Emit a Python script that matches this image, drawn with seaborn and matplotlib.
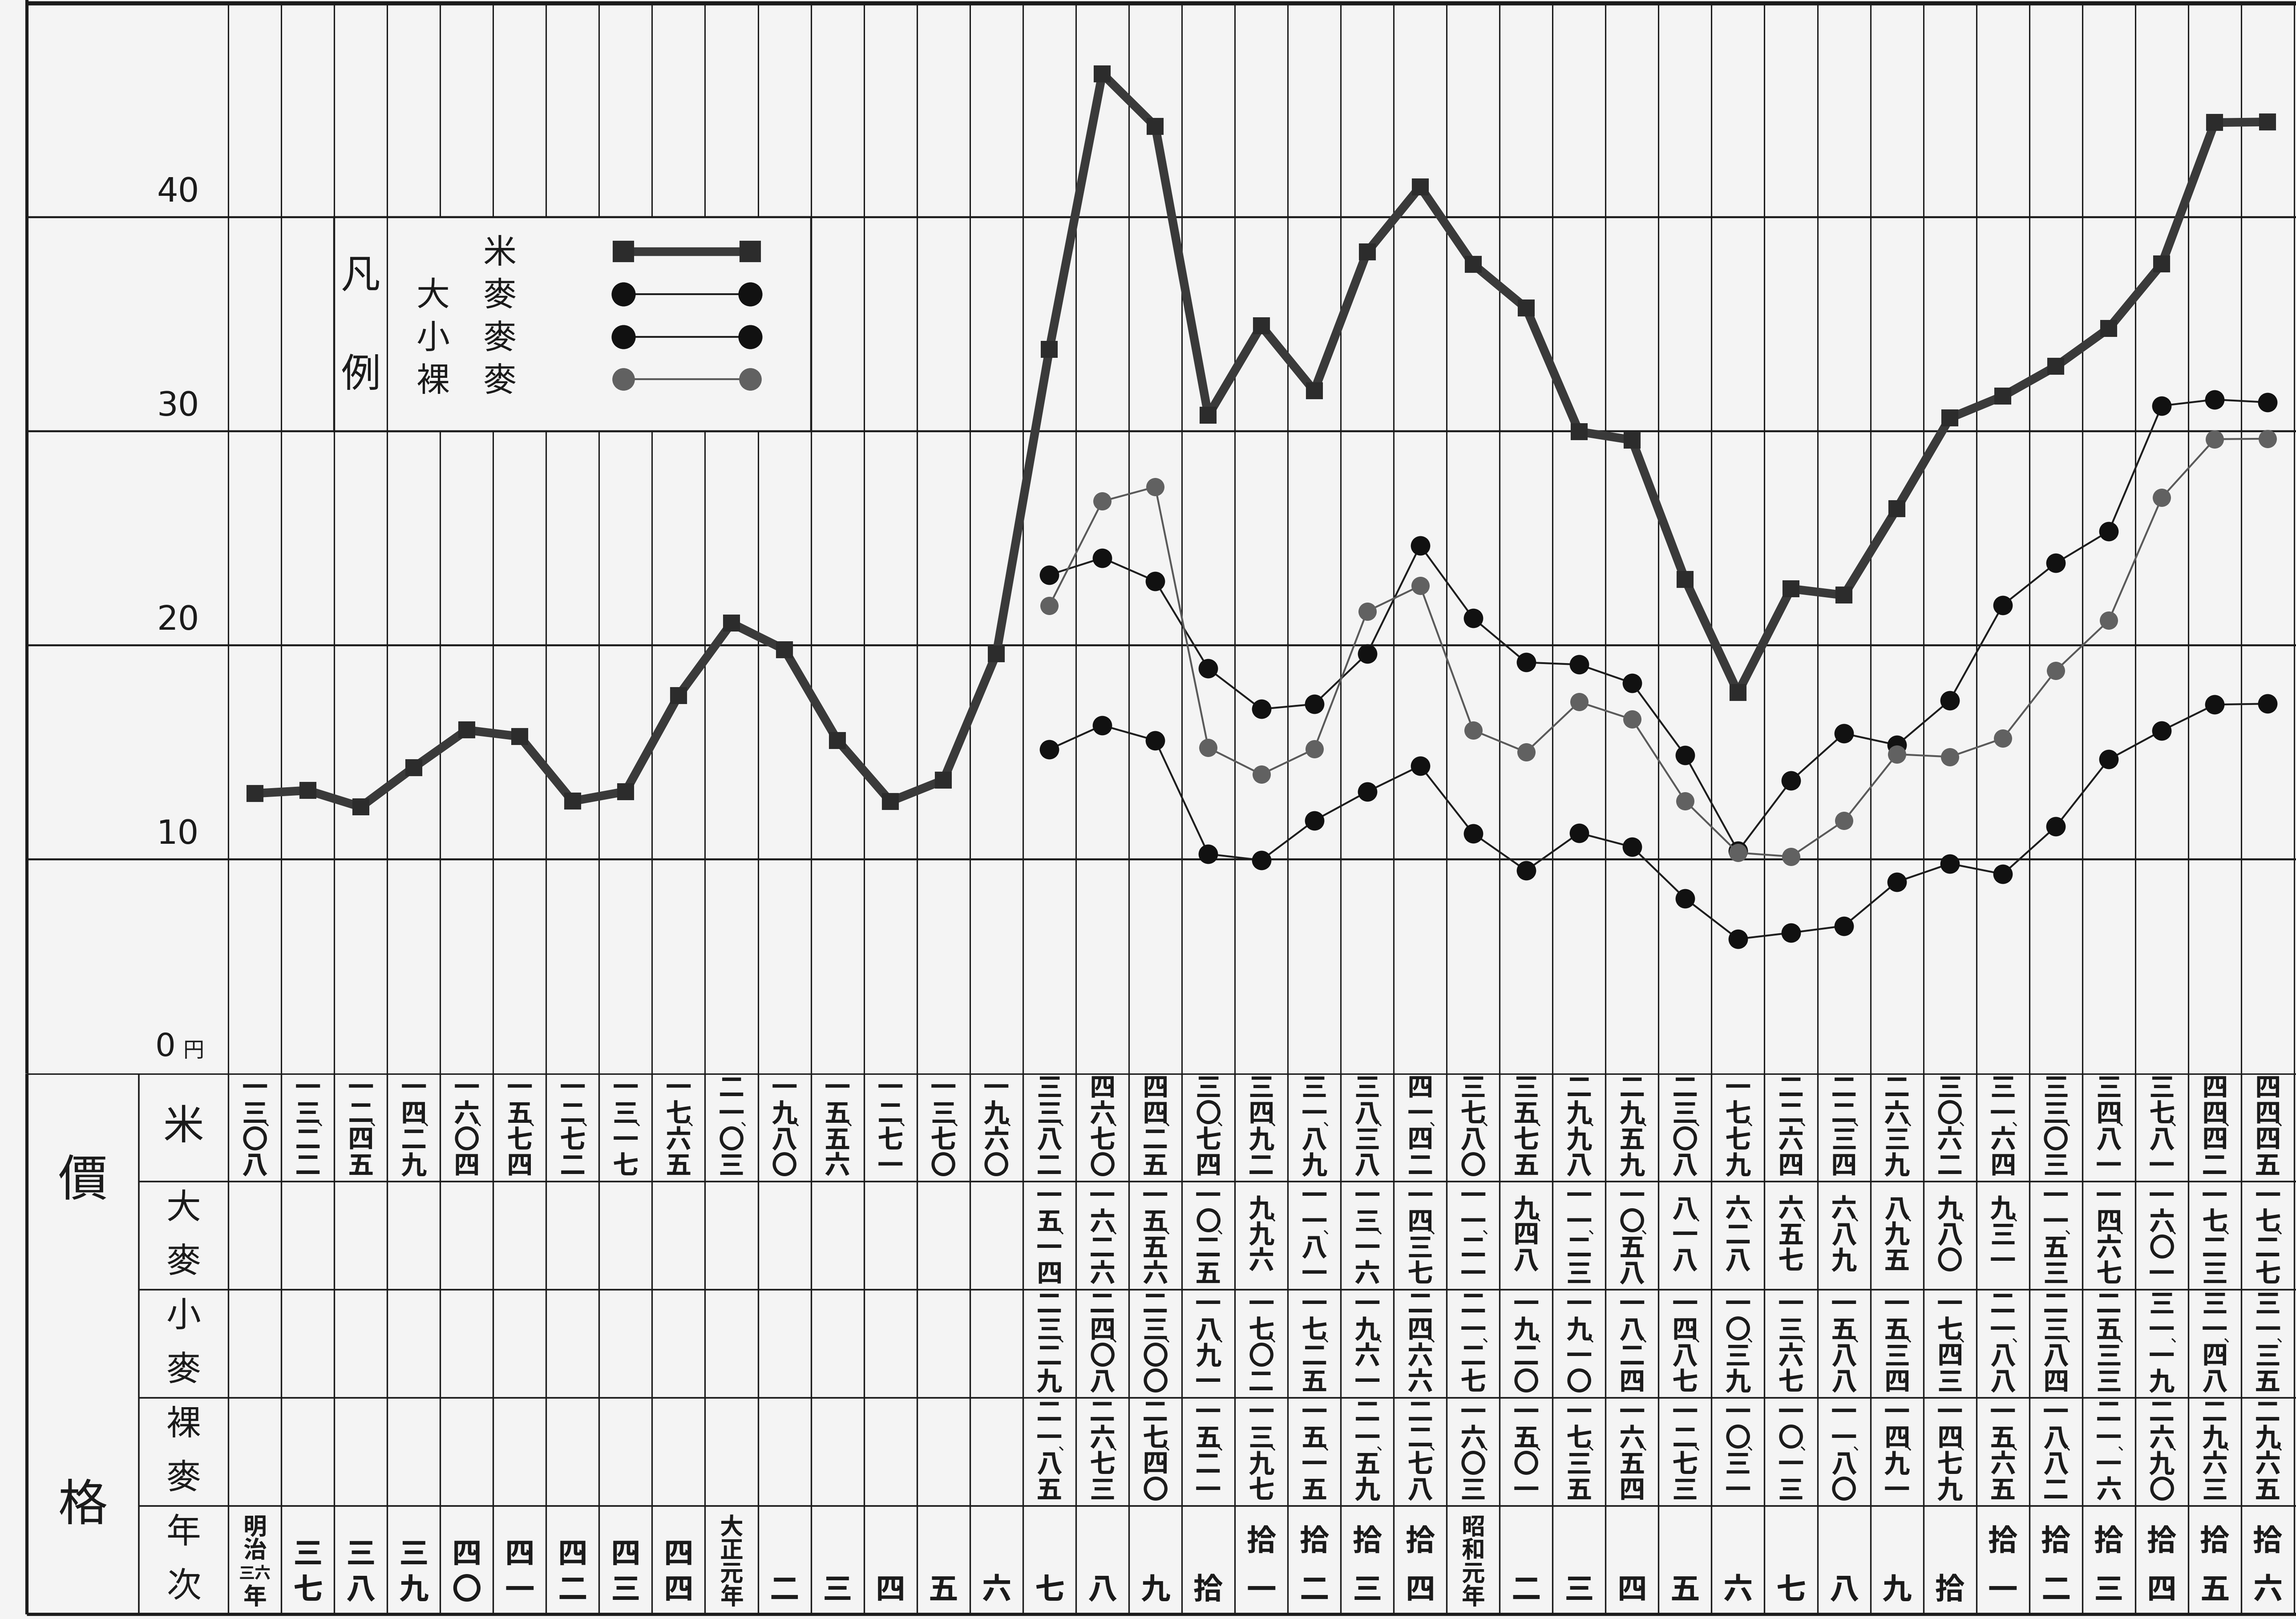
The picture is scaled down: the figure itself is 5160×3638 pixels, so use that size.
import numpy as np
import pandas as pd
import matplotlib
matplotlib.use("Agg")
import matplotlib.pyplot as plt
import seaborn as sns
from matplotlib.patches import Rectangle

# year labels (Meiji 36 .. Showa 16)
years = ["明治三六年", "三七", "三八", "三九", "四〇", "四一", "四二", "四三", "四四",
         "大正元年", "二", "三", "四", "五", "六", "七", "八", "九", "拾",
         "拾一", "拾二", "拾三", "拾四",
         "昭和元年", "二", "三", "四", "五", "六", "七", "八", "九", "拾",
         "拾一", "拾二", "拾三", "拾四", "拾五", "拾六"]

# prices in yen
rice = [13.08, 13.22, 12.45, 14.29, 16.04, 15.74, 12.72, 13.17, 17.65, 21.03,
        19.80, 15.56, 12.71, 13.70, 19.60, 33.82, 46.70, 44.25, 30.74, 34.92,
        31.89, 38.38, 41.42, 37.80, 35.75, 29.98, 29.59, 23.08, 17.79, 22.64,
        22.34, 26.39, 30.62, 31.64, 33.03, 34.81, 37.81, 44.42, 44.45]
barley = [None] * 15 + [15.14, 16.26, 15.56, 10.25, 9.96, 11.81, 13.16, 14.37,
                        11.21, 9.48, 11.23, 10.58, 8.18, 6.28, 6.57, 6.89, 8.95,
                        9.80, 9.31, 11.53, 14.67, 16.01, 17.23, 17.27]
wheat = [None] * 15 + [23.29, 24.08, 23.00, 18.91, 17.02, 17.25, 19.61, 24.66,
                       21.27, 19.20, 19.10, 18.24, 14.87, 10.39, 13.67, 15.88,
                       15.34, 17.43, 21.88, 23.84, 25.33, 31.19, 31.48, 31.35]
naked = [None] * 15 + [21.85, 26.73, 27.40, 15.21, 13.97, 15.15, 21.59, 22.78,
                       16.03, 15.01, 17.35, 16.54, 12.73, 10.31, 10.13, 11.80,
                       14.91, 14.79, 15.65, 18.82, 21.16, 26.90, 29.63, 29.65]

series_names = ["米", "大麥", "小麥", "裸麥"]
legend_labels = ["\u3000米", "大\u3000麥", "小\u3000麥", "裸\u3000麥"]
y_ticks = [10, 20, 30, 40]

sns.set_theme(style="white")
JP = ["Noto Sans CJK JP", "DejaVu Sans"]
plt.rcParams["font.family"] = JP

INK = "#1b1b1b"
BG = "#f4f4f4"
KANJI = "〇一二三四五六七八九"

W, H, DPI = 5160, 3638, 200
fig = plt.figure(figsize=(W / DPI, H / DPI), dpi=DPI, facecolor=BG)

# pixel geometry of the sheet
col_px = (5156 - 513) / 39
x_lo = -0.5 - 513 / col_px
x_hi = -0.5 + (W - 513) / col_px
x_border = -0.5 - (513 - 60) / col_px
x_head = -0.5 - (513 - 312) / col_px
top_px = 2412
unit_px = (top_px - 7) / 50

# ---------------- chart ----------------
ax = fig.add_axes([0, 1 - top_px / H, 1, top_px / H])
ax.set_xlim(x_lo, x_hi)
ax.set_ylim(0, top_px / unit_px)
ax.axis("off")

ax.vlines(np.arange(len(years) + 1) - 0.5, 0, 50, color=INK, lw=1.1, zorder=1)
ax.vlines(x_border, 0, 50.3, color=INK, lw=2.6, zorder=1)
ax.hlines(y_ticks, x_border, x_hi, color=INK, lw=1.6, zorder=1)
ax.hlines(50, x_border, x_hi, color=INK, lw=3.4, zorder=1)

for v in y_ticks:
    ax.text(-1.05, v + 0.4, str(v), ha="right", va="bottom", fontsize=27,
            family="DejaVu Sans", color=INK)
ax.text(-1.5, 0.5, "0", ha="right", va="bottom", fontsize=26,
        family="DejaVu Sans", color=INK)
ax.text(-1.35, 0.55, "円", ha="left", va="bottom", fontsize=17, color=INK)

df = pd.DataFrame({"col": np.arange(len(years)), "米": rice, "大麥": barley,
                   "小麥": wheat, "裸麥": naked})
long = df.melt(id_vars="col", var_name="item", value_name="price").dropna()

styles = {
    "米": dict(color="#3a3a3a", linewidth=7, marker="s", markersize=13,
              markerfacecolor="#2c2c2c", markeredgecolor="#2c2c2c"),
    "大麥": dict(color="#1e1e1e", linewidth=1.5, marker="o", markersize=15,
               markerfacecolor="#111111", markeredgecolor="#111111"),
    "小麥": dict(color="#1e1e1e", linewidth=1.5, marker="o", markersize=15,
               markerfacecolor="#111111", markeredgecolor="#111111"),
    "裸麥": dict(color="#5a5a5a", linewidth=1.5, marker="o", markersize=14,
               markerfacecolor="#616161", markeredgecolor="#616161"),
}
for name in series_names:
    sub = long[long["item"] == name]
    sns.lineplot(data=sub, x="col", y="price", ax=ax, label=name, legend=False,
                 errorbar=None, zorder=5, **styles[name])

# legend block (凡例)
ax.add_patch(Rectangle((1.5, 30), 9, 10, facecolor=BG, edgecolor=INK, lw=1.6, zorder=2))
ax.vlines(2.5, 30, 40, color=INK, lw=1.1, zorder=3)
ax.text(2.0, 37.2, "凡", ha="center", va="center", fontsize=32, color=INK, zorder=6)
ax.text(2.0, 32.6, "例", ha="center", va="center", fontsize=32, color=INK, zorder=6)
handles, _ = ax.get_legend_handles_labels()
leg = ax.legend(handles, legend_labels, loc="upper left", bbox_to_anchor=(3.05, 39.1),
                bbox_transform=ax.transData, frameon=False, markerfirst=False,
                numpoints=2, markerscale=1.25, fontsize=27, handlelength=4.4,
                handletextpad=2.9, labelspacing=0.25, borderpad=0, borderaxespad=0)
leg.set_zorder(6)
for t in leg.get_texts():
    t.set_color(INK)

# ---------------- table ----------------
axt = fig.add_axes([0, 0, 1, 1 - top_px / H])
row_px = (3627 - top_px) / 5
axt.set_xlim(x_lo, x_hi)
axt.set_ylim((H - top_px) / row_px, 0)
axt.axis("off")

axt.hlines(0, x_border, x_hi, color=INK, lw=1.9)
axt.hlines([1, 2, 3, 4], x_head, x_hi, color=INK, lw=1.3)
axt.hlines(5, x_border, x_hi, color=INK, lw=2.6)
axt.vlines(np.arange(len(years) + 1) - 0.5, 0, 5, color=INK, lw=1.2)
axt.vlines(x_head, 0, 5, color=INK, lw=1.3)
axt.vlines(x_border, 0, 5, color=INK, lw=2.6)

x_big = (x_border + x_head) / 2
x_lab = (x_head - 0.5) / 2
axt.text(x_big, 1.0, "價", ha="center", va="center", fontsize=40, color=INK)
axt.text(x_big, 4.0, "格", ha="center", va="center", fontsize=40, color=INK)
axt.text(x_lab, 0.5, "米", ha="center", va="center", fontsize=33, color=INK)
for r, lab in zip([1, 2, 3, 4], ["大麥", "小麥", "裸麥", "年次"]):
    axt.text(x_lab, r + 0.25, lab[0], ha="center", va="center", fontsize=28, color=INK)
    axt.text(x_lab, r + 0.75, lab[1], ha="center", va="center", fontsize=28, color=INK)


def cell_number(x, row, v):
    ip, dp = f"{v:.2f}".split(".")
    chars = [KANJI[int(c)] for c in ip + dp]
    pitch = 0.24
    y0 = row + 0.5 - pitch * (len(chars) - 1) / 2
    for k, ch in enumerate(chars):
        axt.text(x, y0 + k * pitch, ch, ha="center", va="center", fontsize=21,
                 fontweight="bold", color=INK)
    yc = y0 + (len(ip) - 1) * pitch + 0.06
    axt.text(x + 0.16, yc, "、", ha="left", va="center", fontsize=13, color=INK)


for row, vals in enumerate([rice, barley, wheat, naked]):
    for i, v in enumerate(vals):
        if v is not None:
            cell_number(i, row, v)

for i, lab in enumerate(years):
    if len(lab) >= 4:
        parts = [lab[0], lab[1], lab[2:-1], lab[-1]]
        for k, p in enumerate(parts):
            fs = 13 if len(p) > 1 else 19
            axt.text(i, 4 + 0.2 + k * 0.215, p, ha="center", va="center",
                     fontsize=fs, fontweight="bold", color=INK)
    elif len(lab) == 2:
        top_y = 4.33 if lab[0] == "拾" else 4.45
        axt.text(i, top_y, lab[0], ha="center", va="center", fontsize=24,
                 fontweight="bold", color=INK)
        axt.text(i, 4.78, lab[1], ha="center", va="center", fontsize=24,
                 fontweight="bold", color=INK)
    else:
        axt.text(i, 4.78, lab, ha="center", va="center", fontsize=24,
                 fontweight="bold", color=INK)

fig.savefig("out.png", dpi=DPI, facecolor=BG)
